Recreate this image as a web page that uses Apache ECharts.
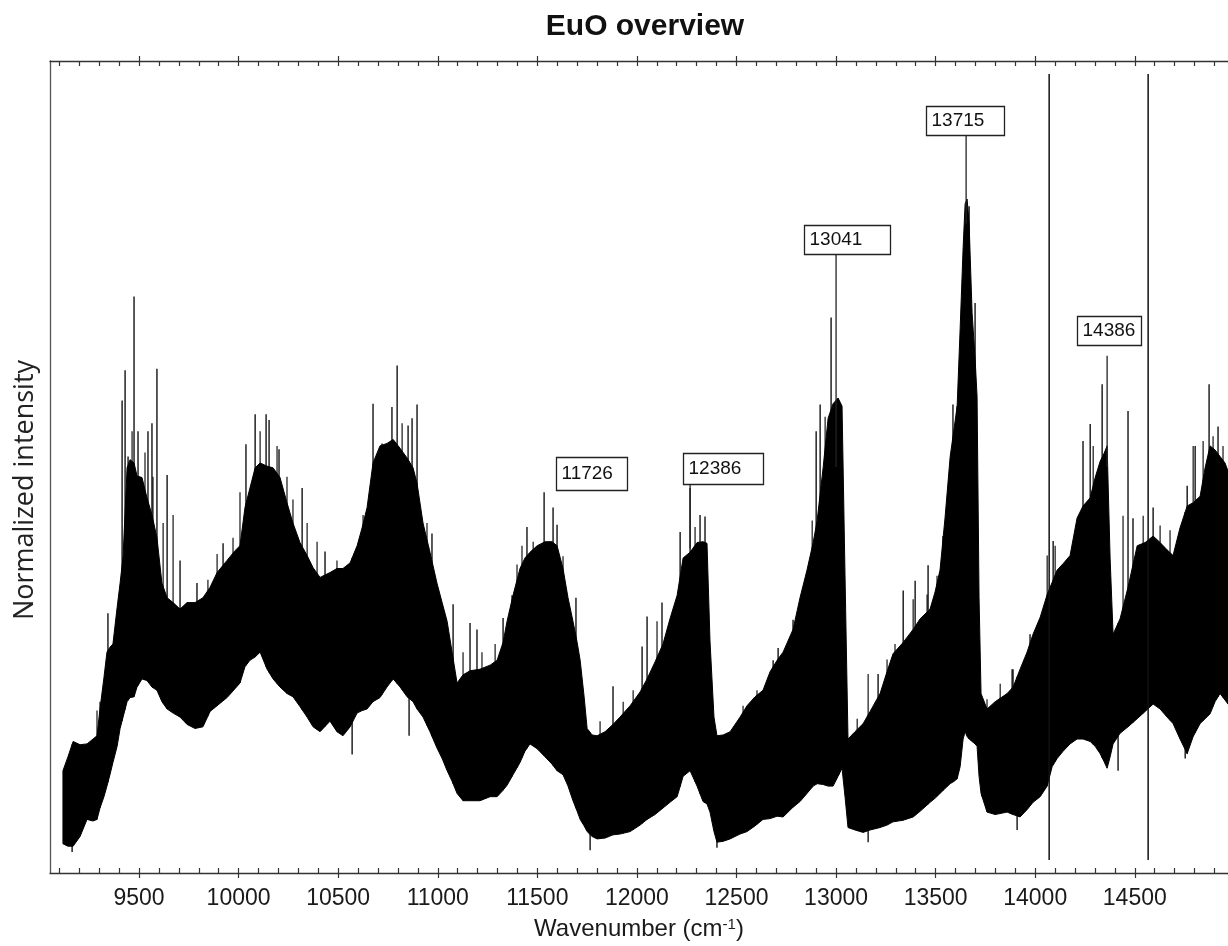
<!DOCTYPE html>
<html>
<head>
<meta charset="utf-8">
<script src="https://cdn.jsdelivr.net/npm/echarts@6/dist/echarts.min.js"></script>
<style>
html,body{margin:0;padding:0;background:#fff;}
#chart{width:1228px;height:946px;}
</style>
</head>
<body>
<div id="chart"></div>
<script>
// ---- data ----
// wavenumber (cm-1) of the envelope samples
const wavenumber = [
  9118,9143,9169,9204,9239,9269,9289,9304,9324,9339,
  9354,9369,9390,9405,9420,9440,9455,9475,9490,9515,
  9540,9565,9590,9615,9641,9671,9706,9741,9781,9821,
  9857,9892,9942,9982,10007,10032,10057,10083,10108,10143,
  10173,10208,10243,10273,10308,10344,10374,10409,10459,10494,
  10524,10560,10595,10620,10645,10675,10710,10745,10776,10811,
  10846,10876,10896,10926,10961,10996,11022,11047,11072,11097,
  11127,11162,11212,11263,11298,11328,11348,11378,11413,11438,
  11463,11499,11539,11574,11599,11629,11654,11679,11700,11715,
  11735,11750,11775,11800,11840,11880,11915,11966,12016,12051,
  12091,12131,12166,12202,12232,12267,12302,12332,12352,12367,
  12387,12402,12433,12468,12518,12553,12593,12633,12669,12704,
  12734,12784,12819,12854,12885,12905,12935,12960,12985,13010,
  13030,13045,13060,13095,13136,13171,13221,13256,13286,13337,
  13387,13422,13472,13497,13522,13547,13573,13593,13608,13623,
  13638,13648,13658,13668,13683,13698,13708,13718,13728,13758,
  13799,13859,13889,13924,13959,13989,14025,14060,14085,14110,
  14140,14175,14210,14240,14276,14301,14326,14346,14361,14376,
  14391,14426,14466,14512,14552,14592,14627,14662,14692,14727,
  14763,14793,14828,14853,14878,14903,14928,14953,14968
];
// top of the dense black band (normalized intensity, 0-100)
const upperEnv = [
  12.6,14.3,16.2,15.8,15.9,16.5,16.9,20.2,24.1,27.2,
  27.8,28.2,32.7,35.7,39.0,49.9,50.9,50.5,48.9,48.7,
  46.2,44.1,41.3,35.7,33.9,33.3,32.5,33.3,33.3,33.9,
  35.2,37.0,38.5,39.7,40.3,45.0,47.4,49.9,50.5,50.1,
  49.9,48.7,45.6,43.1,40.7,39.1,37.6,36.4,37.0,37.5,
  37.5,38.2,40.3,42.5,45.0,50.5,52.6,52.9,53.4,52.3,
  51.1,49.9,48.0,43.1,39.5,35.7,33.3,31.0,27.2,23.4,
  24.4,24.9,25.1,25.6,26.2,28.4,31.0,34.2,37.5,38.8,
  39.5,40.3,40.8,40.8,40.3,37.5,33.9,31.0,28.4,26.2,
  21.7,17.8,17.0,16.9,17.4,18.3,19.2,20.6,22.3,23.9,
  26.0,28.2,31.3,34.2,38.8,39.5,40.7,40.8,40.6,28.6,
  19.2,16.9,17.0,17.4,19.2,20.6,21.7,22.5,24.8,26.2,
  27.2,30.0,33.9,37.3,40.7,43.4,49.9,56.0,57.8,58.5,
  57.5,36.6,16.5,17.4,18.4,19.9,22.1,24.8,27.0,28.4,
  30.0,31.3,32.5,34.6,37.3,43.7,51.3,54.8,57.5,67.0,
  77.0,82.4,83.0,80.0,69.0,63.4,58.7,33.9,22.1,20.2,
  21.1,22.1,22.9,25.1,27.2,29.4,31.5,34.3,35.8,37.3,
  38.1,39.1,43.7,45.2,46.2,48.7,50.7,51.7,52.6,38.8,
  29.4,31.3,35.2,40.3,40.7,41.5,40.7,39.8,39.1,42.5,
  45.2,45.6,46.4,49.9,52.6,52.1,51.3,50.5,49.5
];
// bottom of the dense black band
const lowerEnv = [
  3.6,3.3,3.3,4.5,6.6,6.4,6.6,8.0,9.4,10.7,
  12.1,13.6,15.6,17.8,19.2,21.1,21.6,21.7,22.9,23.9,
  23.7,22.9,22.5,21.1,20.2,19.7,19.2,18.3,17.8,18.0,
  19.9,20.6,21.6,22.7,23.4,25.4,26.2,26.6,27.2,25.1,
  23.9,22.9,22.1,21.7,20.5,19.2,18.0,17.4,18.7,17.4,
  16.9,18.0,19.7,20.0,20.2,21.1,21.6,22.9,23.9,22.9,
  21.7,21.1,20.2,19.2,17.4,15.4,14.1,12.6,11.3,9.8,
  8.9,8.9,8.9,9.4,9.4,10.2,10.8,12.1,13.6,15.0,
  15.9,15.3,14.3,13.4,12.6,12.1,10.7,8.9,7.6,6.6,
  5.8,5.1,4.5,4.2,4.3,4.7,4.8,5.1,5.9,6.6,
  7.2,8.0,8.7,9.4,11.9,12.6,10.7,8.8,8.5,7.5,
  5.1,3.8,3.9,4.2,4.8,5.1,5.8,6.6,6.7,7.0,
  6.9,8.1,8.8,9.8,10.7,11.0,10.9,10.7,10.7,11.9,
  12.9,9.4,5.6,5.3,5.0,5.3,5.6,5.9,6.3,6.5,
  6.9,7.6,8.7,9.2,9.8,10.4,11.0,11.3,11.6,13.1,
  16.5,17.4,16.8,16.5,16.2,15.9,15.6,11.9,9.8,7.5,
  7.2,7.5,7.2,6.9,7.8,8.7,9.4,10.7,13.1,14.1,
  15.0,15.9,16.5,16.5,16.2,15.6,14.7,13.7,12.9,14.3,
  15.9,17.2,18.0,19.0,19.9,20.8,20.2,19.2,18.4,16.5,
  14.7,16.8,18.4,19.0,19.6,21.1,22.1,21.3,20.8
];
// isolated tall spikes
const spikeX = [
  9344,9415,9430,9445,9475,9495,9545,9565,9590,9641,
  9706,9791,9922,10037,10083,10138,10153,10203,10319,10434,
  10675,10720,10770,10796,10851,10871,10896,10971,11077,11162,
  11197,11328,11373,11448,11534,11579,11599,11694,11880,12026,
  12051,12126,12217,12267,12317,12342,12684,12709,12784,12834,
  12900,12920,12975,13015,13211,13337,13397,13462,13537,13587,
  13608,13668,13698,13733,13884,13974,14090,14240,14276,14336,
  14466,14491,14592,14763,14803,14873,14918
];
const spikeTop = [
  32.0,58.2,61.9,51.3,71.0,54.4,54.4,55.4,62.1,49.0,
  38.5,35.7,40.6,52.8,56.5,56.5,55.8,52.2,47.4,39.6,
  57.8,52.9,57.4,62.5,55.1,56.0,57.7,41.8,33.1,30.8,
  30.0,31.4,34.2,42.6,46.9,45.0,42.9,33.9,23.0,27.9,
  31.6,33.3,42.0,47.4,44.1,43.9,26.2,27.7,31.2,33.1,
  54.4,57.7,68.4,58.1,24.5,34.8,36.0,37.9,41.5,57.7,
  57.5,82.1,70.2,21.4,25.1,29.4,40.9,53.2,55.3,60.2,
  56.9,43.7,45.0,47.7,52.6,60.2,55.0
];
// smaller spikes along the top edge of the band
const edgeSpikeX = [
  9289,9304,9465,9530,9570,9621,9671,9846,9892,9972,
  10007,10108,10193,10243,10273,10344,10394,10494,10625,10821,
  10946,11127,11222,11288,11398,11423,11479,11629,11815,11931,
  11981,12101,12292,12533,12603,12880,12945,13106,13161,13256,
  13296,13387,13457,13507,13758,13824,13889,14060,14100,14291,
  14441,14542,14627,14677,14793,14843,14893,14943
];
const edgeSpikeTop = [
  20.0,21.1,54.4,51.8,48.8,43.1,44.1,36.1,39.3,41.3,
  46.9,54.4,52.6,48.8,46.0,43.1,40.8,38.5,44.1,55.4,
  43.1,27.2,27.2,28.2,38.0,40.3,40.8,39.0,18.7,21.1,
  22.5,31.0,42.6,20.6,22.5,43.4,56.2,19.0,24.5,26.3,
  28.2,33.7,34.3,36.6,21.4,23.3,25.1,39.1,40.3,52.6,
  44.0,44.0,42.8,42.2,52.6,53.2,53.8,52.6
];
// downward spikes
const dipX = [9164,10570,10856,11765,12402,13161,13909,14416,14753];
const dipBottom = [2.6,14.6,16.9,2.8,3.1,3.8,5.3,12.6,14.1];
// two full-height vertical lines
const lineX = [14070, 14567];
const lineTop = [98.4, 98.4];
const lineBottom = [1.6, 1.6];
// peak annotations
const annLabel = ['11726','12386','13041','13715','14386'];
const annX = [11534, 12267, 13000, 13653, 14361];
const annTop = [46.9, 47.9, 76.2, 90.9, 63.7];
const annEnd = [46.9, 40.0, 50.0, 80.0, 50.0];
// axis ticks
const tickLabelValues = [9500,10000,10500,11000,11500,12000,12500,13000,13500,14000,14500];
const minorTickValues = [
  9100,9200,9300,9400,9500,9600,9700,9800,9900,10000,
  10100,10200,10300,10400,10500,10600,10700,10800,10900,11000,
  11100,11200,11300,11400,11500,11600,11700,11800,11900,12000,
  12100,12200,12300,12400,12500,12600,12700,12800,12900,13000,
  13100,13200,13300,13400,13500,13600,13700,13800,13900,14000,
  14100,14200,14300,14400,14500,14600,14700,14800,14900
];

// ---- layout / style (not data) ----
const X_MIN = 9053, X_MAX = 14968;
const annBox = [
  {dx:12, dy:-2, w:71, h:33},
  {dx:-7, dy:0, w:80, h:31},
  {dx:-32, dy:0, w:86, h:29},
  {dx:-40, dy:0, w:78, h:29},
  {dx:-30, dy:-11, w:64, h:29}
];
const AX = '#333';

function interp(xs, ys, x) {
  if (x <= xs[0]) return ys[0];
  for (let i = 1; i < xs.length; i++) {
    if (x <= xs[i]) {
      const t = (x - xs[i-1]) / (xs[i] - xs[i-1]);
      return ys[i-1] + t * (ys[i] - ys[i-1]);
    }
  }
  return ys[ys.length-1];
}

const chart = echarts.init(document.getElementById('chart'), null, {renderer:'canvas'});

function xAxisBase(pos) {
  return {type:'value', position:pos, min:X_MIN, max:X_MAX, splitLine:{show:false}, axisPointer:{show:false}};
}

function spikeRenderer(lineWidth) {
  return function(params, api) {
    const x = api.value(0);
    const p1 = api.coord([x, api.value(1)]);
    const p2 = api.coord([x, interp(wavenumber, lowerEnv, x)]);
    return {type:'line', shape:{x1:p1[0], y1:p1[1], x2:p2[0], y2:p2[1]}, style:{stroke:'#000', lineWidth:lineWidth}};
  };
}

const option = {
  animation: false,
  backgroundColor: '#fff',
  grid: {left:50, right:0, top:61, bottom:69, containLabel:false},
  xAxis: [
    Object.assign(xAxisBase('bottom'), {
      axisLine:{show:true, lineStyle:{color:AX, width:1.3}},
      axisTick:{show:true, inside:true, length:5, customValues:minorTickValues, lineStyle:{color:AX, width:1.2}},
      axisLabel:{show:true, customValues:tickLabelValues, formatter:v=>String(v), fontSize:23, fontFamily:'Liberation Sans', color:'#1a1a1a', margin:14},
      name:'Wavenumber (cm{sup|-1})',
      nameLocation:'middle',
      nameGap:44,
      nameTextStyle:{fontSize:24, fontFamily:'Liberation Sans', color:'#1a1a1a',
        rich:{sup:{fontSize:15, fontFamily:'Liberation Sans', color:'#1a1a1a', verticalAlign:'top', padding:[0,0,8,0]}}}
    }),
    Object.assign(xAxisBase('bottom'), {
      axisLine:{show:false},
      axisTick:{show:true, inside:false, length:5, customValues:tickLabelValues, lineStyle:{color:AX, width:1.2}},
      axisLabel:{show:false}
    }),
    Object.assign(xAxisBase('top'), {
      axisLine:{show:true, lineStyle:{color:AX, width:1.3}},
      axisTick:{show:true, inside:true, length:5, customValues:minorTickValues, lineStyle:{color:AX, width:1.2}},
      axisLabel:{show:false}
    }),
    Object.assign(xAxisBase('top'), {
      axisLine:{show:false},
      axisTick:{show:true, inside:false, length:5, customValues:tickLabelValues, lineStyle:{color:AX, width:1.2}},
      axisLabel:{show:false}
    })
  ],
  yAxis: {
    type:'value', min:0, max:100, position:'left',
    axisLine:{show:true, lineStyle:{color:'#555', width:1.3}},
    axisTick:{show:false}, axisLabel:{show:false}, splitLine:{show:false}
  },
  graphic: [
    {type:'text', x:645, y:27, silent:true,
     style:{text:'EuO overview', font:'bold 30px "Liberation Sans", Arial, sans-serif', fill:'#111', textAlign:'center', textVerticalAlign:'middle'}},
    {type:'text', x:25, y:490, rotation:Math.PI/2, silent:true,
     style:{text:'Normalized intensity', font:'27px "Open Sans", sans-serif', fill:'#222', textAlign:'center', textVerticalAlign:'middle'}}
  ],
  series: [
    {
      type:'custom', name:'band', silent:true, clip:true,
      data:[[wavenumber[0], lowerEnv[0]]],
      renderItem: function(params, api) {
        const pts = [];
        for (let i = 0; i < wavenumber.length; i++) pts.push(api.coord([wavenumber[i], upperEnv[i]]));
        for (let i = wavenumber.length - 1; i >= 0; i--) pts.push(api.coord([wavenumber[i], lowerEnv[i]]));
        return {type:'polygon', shape:{points:pts}, style:{fill:'#000', stroke:'#000', lineWidth:1}};
      }
    },
    {
      type:'custom', name:'spikes', silent:true, clip:true,
      data: spikeX.map((x, i) => [x, spikeTop[i]]),
      renderItem: spikeRenderer(1.3)
    },
    {
      type:'custom', name:'edgeSpikes', silent:true, clip:true,
      data: edgeSpikeX.map((x, i) => [x, edgeSpikeTop[i]]),
      renderItem: spikeRenderer(1.1)
    },
    {
      type:'custom', name:'dips', silent:true, clip:true,
      data: dipX.map((x, i) => [x, dipBottom[i]]),
      renderItem: function(params, api) {
        const x = api.value(0);
        const p1 = api.coord([x, api.value(1)]);
        const p2 = api.coord([x, interp(wavenumber, upperEnv, x)]);
        return {type:'line', shape:{x1:p1[0], y1:p1[1], x2:p2[0], y2:p2[1]}, style:{stroke:'#000', lineWidth:1.3}};
      }
    },
    {
      type:'custom', name:'lines', silent:true, clip:true,
      data: lineX.map((x, i) => [x, lineTop[i], lineBottom[i]]),
      renderItem: function(params, api) {
        const x = api.value(0);
        const p1 = api.coord([x, api.value(1)]);
        const p2 = api.coord([x, api.value(2)]);
        return {type:'line', shape:{x1:p1[0], y1:p1[1], x2:p2[0], y2:p2[1]}, style:{stroke:'#111', lineWidth:1.5}};
      }
    },
    {
      type:'custom', name:'annotations', silent:true, clip:false,
      data: annX.map((x, i) => [x, annTop[i], annEnd[i], i]),
      renderItem: function(params, api) {
        const x = api.value(0);
        const i = api.value(3);
        const p = api.coord([x, api.value(1)]);
        const pe = api.coord([x, api.value(2)]);
        const b = annBox[i];
        const bx = Math.round(p[0] + b.dx) + 0.5;
        const bBottom = Math.round(p[1] + b.dy) + 0.5;
        const children = [];
        if (pe[1] - p[1] > 1) {
          children.push({type:'line', shape:{x1:p[0], y1:p[1], x2:pe[0], y2:pe[1]}, style:{stroke:'#222', lineWidth:1.3}});
        }
        children.push({type:'rect', shape:{x:bx, y:bBottom - b.h, width:b.w, height:b.h},
          style:{fill:'#fff', stroke:'#222', lineWidth:1.3}});
        children.push({type:'text', x:bx + 5, y:bBottom - b.h/2,
          style:{text:annLabel[i], font:'19px "Liberation Sans", Arial, sans-serif', fill:'#111', textAlign:'left', textVerticalAlign:'middle'}});
        return {type:'group', children:children};
      }
    }
  ]
};
chart.setOption(option);
</script>
</body>
</html>
